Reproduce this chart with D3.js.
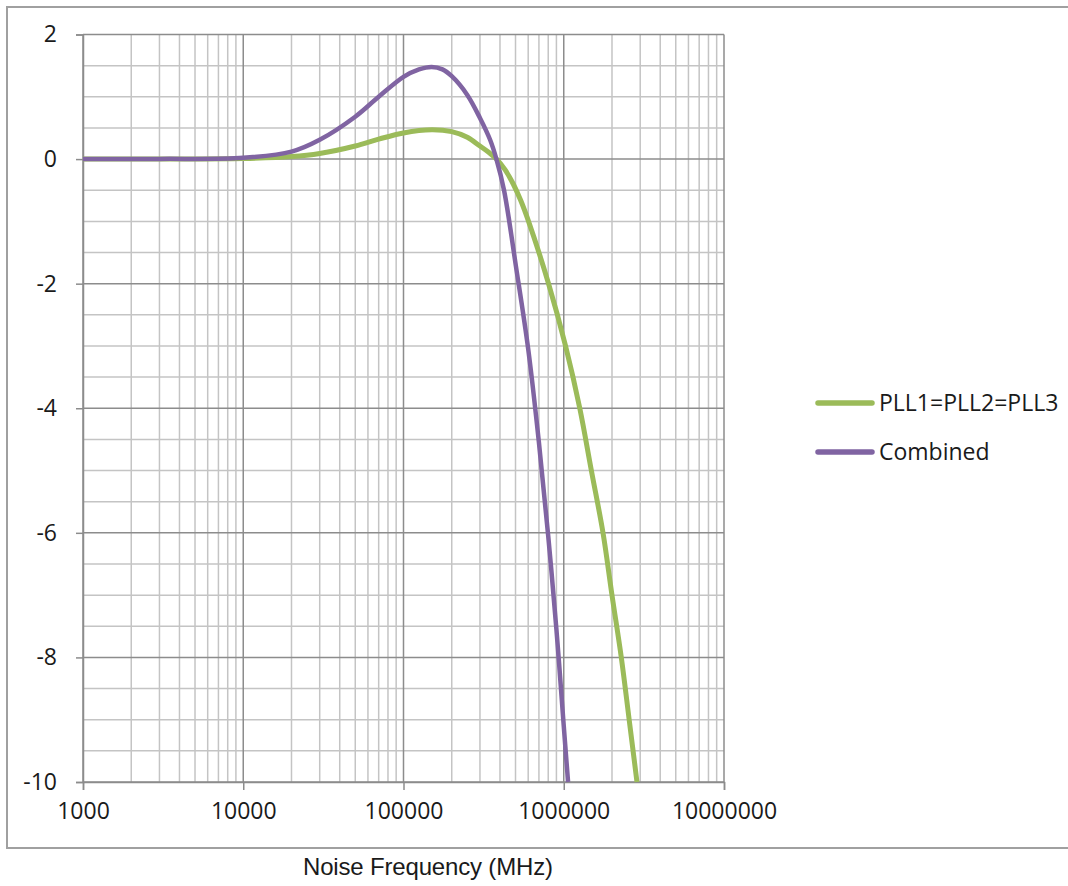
<!DOCTYPE html>
<html>
<head>
<meta charset="utf-8">
<script src="https://cdn.jsdelivr.net/npm/d3@7"></script>
<style>
  body { margin: 0; background: #fff; }
  svg { display: block; }
</style>
</head>
<body>
<div id="chart"></div>
<script>
// Data
const seriesNames = ["PLL1=PLL2=PLL3", "Combined"];
const seriesColors = ["#9bbb59", "#8064a2"];

const pllFreq = [1000, 3000, 10000, 20000, 30000, 50000, 70000, 100000, 150000, 200000, 250000, 300000, 340000, 380000, 430000, 484000, 540000, 603000, 804000, 1026000, 1259000, 1487000, 1758000, 2000000, 2286000, 2560000, 2864000];
const pllGain = [0, 0.002, 0.01, 0.04, 0.09, 0.21, 0.32, 0.42, 0.47, 0.44, 0.35, 0.21, 0.11, 0, -0.17, -0.4, -0.67, -1.0, -2.0, -3.0, -4.0, -5.0, -6.0, -7.0, -8.0, -9.0, -10];

const combFreq = [1000, 3000, 10000, 20000, 30000, 50000, 70000, 100000, 125000, 150000, 175000, 200000, 250000, 300000, 347000, 380000, 424000, 503000, 600000, 700000, 800000, 900000, 1000000, 1064000];
const combGain = [0, 0.003, 0.02, 0.12, 0.31, 0.68, 1.0, 1.32, 1.44, 1.48, 1.44, 1.33, 1.03, 0.66, 0.31, 0, -0.5, -1.72, -3.05, -4.55, -6.05, -7.55, -9.1, -10];

const xTicks = [1000, 10000, 100000, 1000000, 10000000];
const yTicks = [2, 0, -2, -4, -6, -8, -10];

// Layout
const W = 1068, H = 886;
const plot = { left: 83, right: 724, top: 34.5, bottom: 782 };

const svg = d3.select("#chart").append("svg")
  .attr("width", W)
  .attr("height", H);

// outer chart border
svg.append("rect")
  .attr("x", 7).attr("y", 7)
  .attr("width", W + 10).attr("height", 841)
  .attr("fill", "#fff")
  .attr("stroke", "#a0a0a0")
  .attr("stroke-width", 2);

const x = d3.scaleLog().domain([1000, 10000000]).range([plot.left, plot.right]);
const y = d3.scaleLinear().domain([-10, 2]).range([plot.bottom, plot.top]);

// Grid: minor vertical lines (2..9 within each decade)
const minorX = [];
for (let d = 1000; d < 10000000; d *= 10) {
  for (let k = 2; k <= 9; k++) minorX.push(d * k);
}
svg.append("g").selectAll("line")
  .data(minorX)
  .join("line")
  .attr("x1", d => x(d)).attr("x2", d => x(d))
  .attr("y1", plot.top).attr("y2", plot.bottom)
  .attr("stroke", "#c4c4c4")
  .attr("stroke-width", 1.5);

// minor horizontal lines every 0.5
const minorY = d3.range(-10, 2.01, 0.5).filter(v => Math.abs(v % 2) > 0.01);
svg.append("g").selectAll("line")
  .data(minorY)
  .join("line")
  .attr("x1", plot.left).attr("x2", plot.right)
  .attr("y1", d => y(d)).attr("y2", d => y(d))
  .attr("stroke", "#c4c4c4")
  .attr("stroke-width", 1.5);

// major lines
svg.append("g").selectAll("line")
  .data(xTicks)
  .join("line")
  .attr("x1", d => x(d)).attr("x2", d => x(d))
  .attr("y1", plot.top).attr("y2", plot.bottom)
  .attr("stroke", "#8c8c8c")
  .attr("stroke-width", 1.5);

svg.append("g").selectAll("line")
  .data(yTicks)
  .join("line")
  .attr("x1", plot.left).attr("x2", plot.right)
  .attr("y1", d => y(d)).attr("y2", d => y(d))
  .attr("stroke", "#8c8c8c")
  .attr("stroke-width", 1.5);

// Axes
const font = "'Open Sans', sans-serif";

const yAxis = svg.append("g")
  .attr("transform", "translate(" + plot.left + ",0)")
  .call(d3.axisLeft(y).tickValues(yTicks).tickSize(7).tickPadding(19).tickFormat(d3.format("d")));

const xAxis = svg.append("g")
  .attr("transform", "translate(0," + plot.bottom + ")")
  .call(d3.axisBottom(x).tickValues(xTicks).tickSize(8).tickPadding(13).tickFormat(d3.format("d")));

[xAxis, yAxis].forEach(function(g) {
  g.select(".domain").attr("stroke", "#8c8c8c").attr("stroke-width", 1.5);
  g.selectAll(".tick line").attr("stroke", "#8c8c8c").attr("stroke-width", 1.5);
  g.selectAll("text")
    .attr("font-family", font)
    .attr("font-size", 23)
    .attr("fill", "#1a1a1a");
});
yAxis.selectAll("text").text(d => d < 0 ? "-" + Math.abs(d) : d);

// Lines
const line = d3.line()
  .x(d => x(d[0]))
  .y(d => y(d[1]))
  .curve(d3.curveCatmullRom.alpha(0.5));

const series = [
  { name: seriesNames[0], color: seriesColors[0], width: 5, pts: d3.zip(pllFreq, pllGain) },
  { name: seriesNames[1], color: seriesColors[1], width: 4.5, pts: d3.zip(combFreq, combGain) }
];

svg.append("g").selectAll("path")
  .data(series)
  .join("path")
  .attr("d", d => line(d.pts))
  .attr("fill", "none")
  .attr("stroke", d => d.color)
  .attr("stroke-width", d => d.width)
  .attr("stroke-linejoin", "round");

// Legend
const legend = svg.append("g").selectAll("g")
  .data(series)
  .join("g")
  .attr("transform", (d, i) => "translate(818," + (403 + i * 49) + ")");

legend.append("line")
  .attr("x1", 0).attr("x2", 54)
  .attr("stroke", d => d.color)
  .attr("stroke-width", 5.5)
  .attr("stroke-linecap", "round");

legend.append("text")
  .attr("x", 61)
  .attr("dy", "0.36em")
  .attr("font-family", font)
  .attr("font-size", 23)
  .attr("fill", "#1a1a1a")
  .text(d => d.name);

// Axis title
svg.append("text")
  .attr("x", 428)
  .attr("y", 875)
  .attr("text-anchor", "middle")
  .attr("font-family", "'Liberation Sans', Arial, sans-serif")
  .attr("font-size", 24)
  .attr("textLength", 250)
  .attr("fill", "#1a1a1a")
  .text("Noise Frequency (MHz)");
</script>
</body>
</html>
